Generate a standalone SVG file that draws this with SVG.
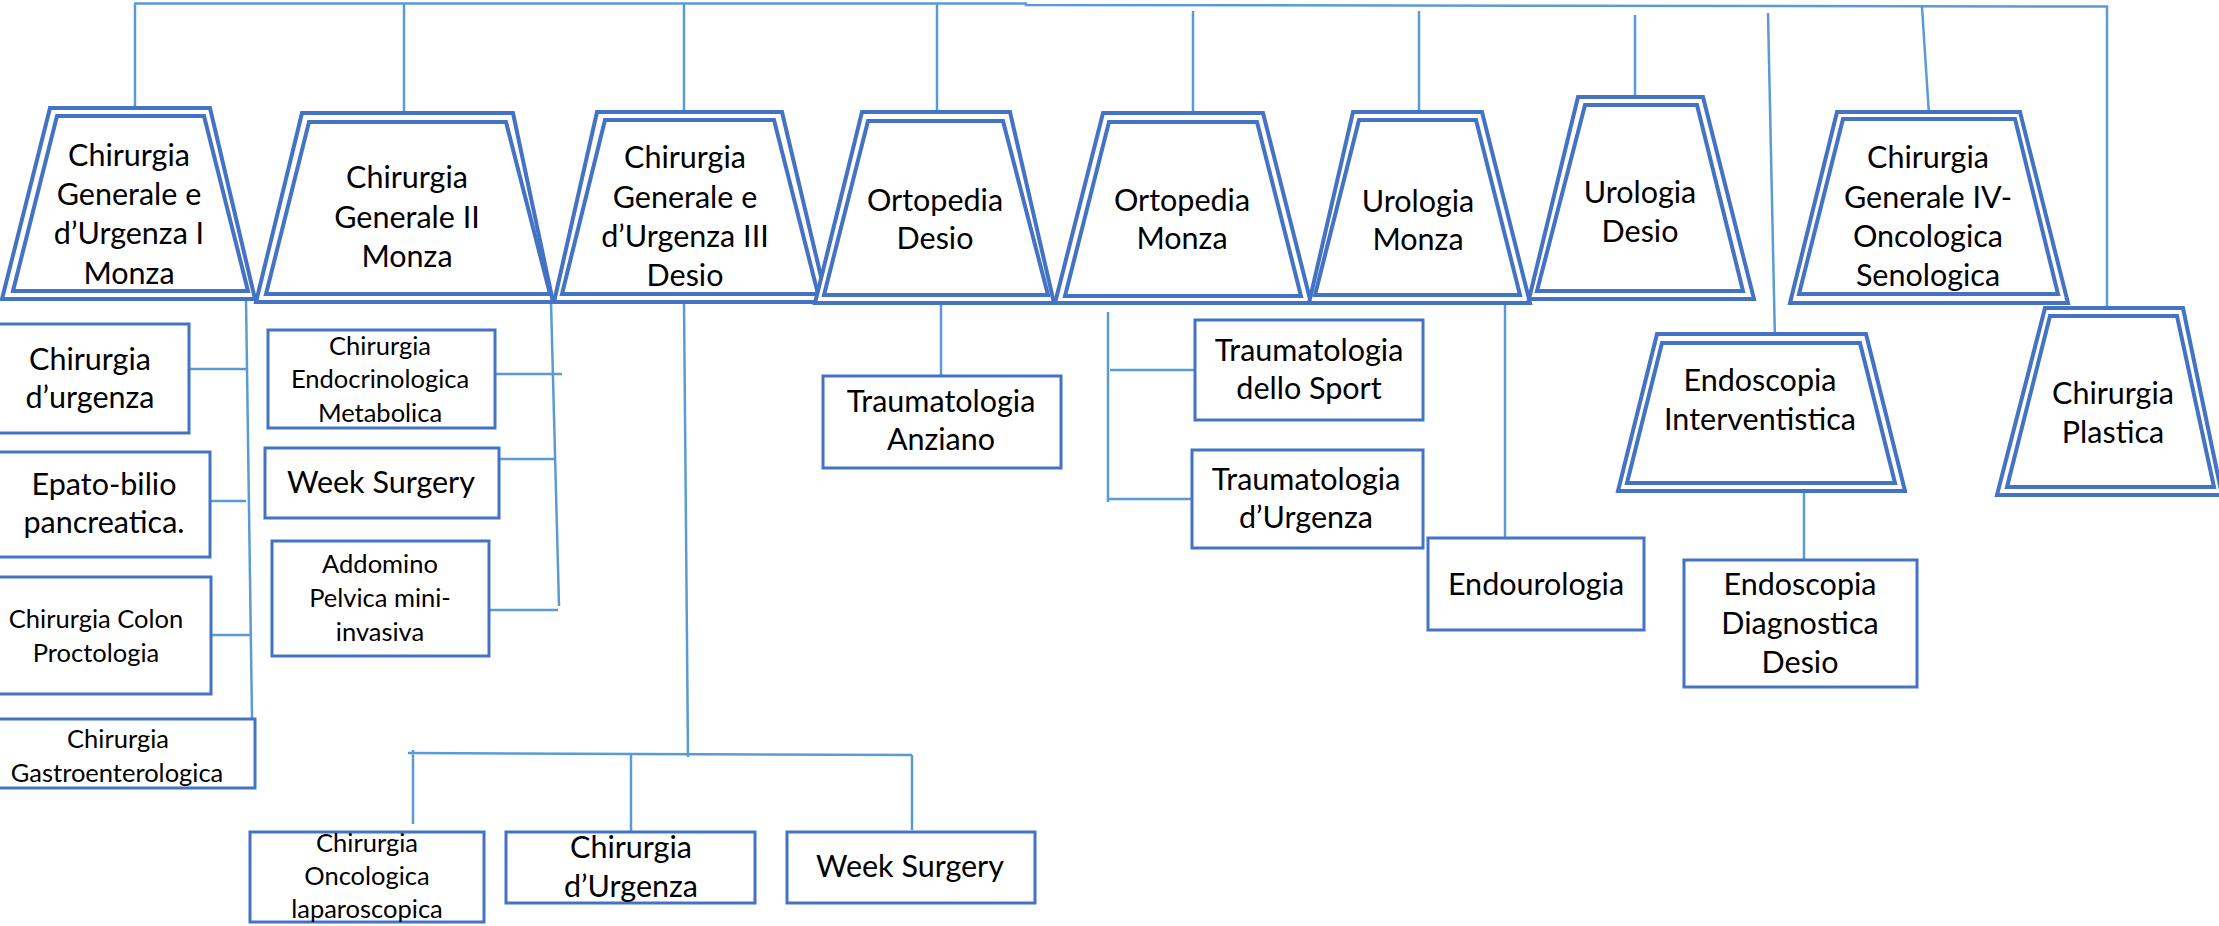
<svg xmlns="http://www.w3.org/2000/svg" width="2219" height="926" viewBox="0 0 2219 926">
<style>
.trap{fill:#fff;stroke:#4472C4;stroke-width:4;stroke-linejoin:miter}
.trapi{fill:none;stroke:#4472C4;stroke-width:4}
.box{fill:#fff;stroke:#4472C4;stroke-width:3}
.conn{fill:none;stroke:#5B9BD5;stroke-width:2.5}
text{font-family:Lato,"Open Sans","Liberation Sans",sans-serif;font-size:30.5px;fill:#000;text-anchor:middle}
text.s{font-size:25.5px}
</style>
<rect width="2219" height="926" fill="#fff"/>
<g id="connectors">
<path class="conn" d="M134,3.5 H1026 V5 L2107,6.5 V306"/>
<path class="conn" d="M135,3.5 V108 M404,3.5 V113 M684,3.5 V112 M937,4 V112 M1193,11 V116 M1419,11 V117 M1635,15 V100 M1768,13 L1775,342 M1922,7 L1929,115"/>
<path class="conn" d="M246,299 L252,718 M189,369 H246 M204,501 H246 M211,635 H251"/>
<path class="conn" d="M551,302 L559,606 M491,374 H562 M498,459 H554 M489,610 H558"/>
<path class="conn" d="M684,302 L688,757 M408,753 L912,755 M413,750 V824 M631,755 V831 M912,755 V830"/>
<path class="conn" d="M941,303 V376 M1108,312 V502 M1110,370 H1195 M1108,499 H1192"/>
<path class="conn" d="M1505,300 V542 M1804,493 V560"/>
</g>
<g id="n1"><polygon class="trap" points="50,108 210,108 255,299 2,299"/><polygon class="trapi" points="57,116 204,116 248,291 13,291"/>
<text x="129" y="166">Chirurgia</text><text x="129" y="205">Generale e</text><text x="129" y="244">d’Urgenza I</text><text x="129" y="284">Monza</text></g>
<g id="n2"><polygon class="trap" points="302,113 513,113 553,302 256,302"/><polygon class="trapi" points="309,122 506,122 550,294 266,294"/>
<text x="407" y="188">Chirurgia</text><text x="407" y="228">Generale II</text><text x="407" y="267">Monza</text></g>
<g id="n3"><polygon class="trap" points="597,112 782,112 827,302 554,302"/><polygon class="trapi" points="605,120 774,120 818,294 562,294"/>
<text x="685" y="168">Chirurgia</text><text x="685" y="208">Generale e</text><text x="685" y="247">d’Urgenza III</text><text x="685" y="286">Desio</text></g>
<g id="n4"><polygon class="trap" points="862,112 1010,112 1054,303 815,303"/><polygon class="trapi" points="868,121 1003,121 1048,295 824,295"/>
<text x="935" y="211">Ortopedia</text><text x="935" y="249">Desio</text></g>
<g id="n5"><polygon class="trap" points="1103,113 1263,113 1311,303 1055,303"/><polygon class="trapi" points="1109,122 1257,122 1301,296 1065,296"/>
<text x="1182" y="211">Ortopedia</text><text x="1182" y="249">Monza</text></g>
<g id="n6"><polygon class="trap" points="1353,112 1482,112 1530,303 1309,303"/><polygon class="trapi" points="1359,120 1476,120 1520,295 1315,295"/>
<text x="1418" y="212">Urologia</text><text x="1418" y="250">Monza</text></g>
<g id="n7"><polygon class="trap" points="1578,97 1703,97 1754,299 1529,299"/><polygon class="trapi" points="1585,105 1697,105 1743,291 1537,291"/>
<text x="1640" y="203">Urologia</text><text x="1640" y="242">Desio</text></g>
<g id="n8"><polygon class="trap" points="1837,112 2020,112 2068,303 1790,303"/><polygon class="trapi" points="1843,119 2015,119 2058,294 1799,294"/>
<text x="1928" y="168">Chirurgia</text><text x="1928" y="208">Generale IV-</text><text x="1928" y="247">Oncologica</text><text x="1928" y="286">Senologica</text></g>
<g id="n9"><polygon class="trap" points="1657,334 1866,334 1905,491 1618,491"/><polygon class="trapi" points="1662,343 1860,343 1895,483 1627,483"/>
<text x="1760" y="391">Endoscopia</text><text x="1760" y="430">Interventistica</text></g>
<g id="n10"><polygon class="trap" points="2045,308 2183,308 2222,495 1997,495"/><polygon class="trapi" points="2050,316 2177,316 2214,487 2007,487"/>
<text x="2113" y="404">Chirurgia</text><text x="2113" y="443">Plastica</text></g>
<g id="c1"><rect class="box" x="-5" y="324" width="194" height="109"/><text x="90" y="370">Chirurgia</text><text x="90" y="408">d’urgenza</text></g>
<g id="c2"><rect class="box" x="-5" y="452" width="215" height="105"/><text x="104" y="495">Epato-bilio</text><text x="104" y="533">pancreatica.</text></g>
<g id="c3"><rect class="box" x="-5" y="577" width="216" height="117"/><text class="s" x="96" y="628">Chirurgia Colon</text><text class="s" x="96" y="662">Proctologia</text></g>
<g id="c4"><rect class="box" x="-5" y="719" width="260" height="69"/><text class="s" x="118" y="748">Chirurgia</text><text class="s" x="117" y="782">Gastroenterologica</text></g>
<g id="c5"><rect class="box" x="268" y="330" width="227" height="98"/><text class="s" x="380" y="355">Chirurgia</text><text class="s" x="380" y="388">Endocrinologica</text><text class="s" x="380" y="422">Metabolica</text></g>
<g id="c6"><rect class="box" x="265" y="448" width="234" height="70"/><text x="381" y="493">Week Surgery</text></g>
<g id="c7"><rect class="box" x="272" y="541" width="217" height="115"/><text class="s" x="380" y="573">Addomino</text><text class="s" x="380" y="607">Pelvica mini-</text><text class="s" x="380" y="641">invasiva</text></g>
<g id="c8"><rect class="box" x="250" y="832" width="234" height="90"/><text class="s" x="367" y="852">Chirurgia</text><text class="s" x="367" y="885">Oncologica</text><text class="s" x="367" y="918">laparoscopica</text></g>
<g id="c9"><rect class="box" x="506" y="832" width="249" height="71"/><text x="631" y="858">Chirurgia</text><text x="631" y="897">d’Urgenza</text></g>
<g id="c10"><rect class="box" x="787" y="832" width="248" height="71"/><text x="910" y="877">Week Surgery</text></g>
<g id="c11"><rect class="box" x="823" y="376" width="238" height="92"/><text x="941" y="412">Traumatologia</text><text x="941" y="450">Anziano</text></g>
<g id="c12"><rect class="box" x="1195" y="320" width="228" height="100"/><text x="1309" y="361">Traumatologia</text><text x="1309" y="399">dello Sport</text></g>
<g id="c13"><rect class="box" x="1192" y="450" width="231" height="98"/><text x="1306" y="490">Traumatologia</text><text x="1306" y="528">d’Urgenza</text></g>
<g id="c14"><rect class="box" x="1428" y="538" width="216" height="92"/><text x="1536" y="595">Endourologia</text></g>
<g id="c15"><rect class="box" x="1684" y="560" width="233" height="127"/><text x="1800" y="595">Endoscopia</text><text x="1800" y="634">Diagnostica</text><text x="1800" y="673">Desio</text></g>
</svg>
